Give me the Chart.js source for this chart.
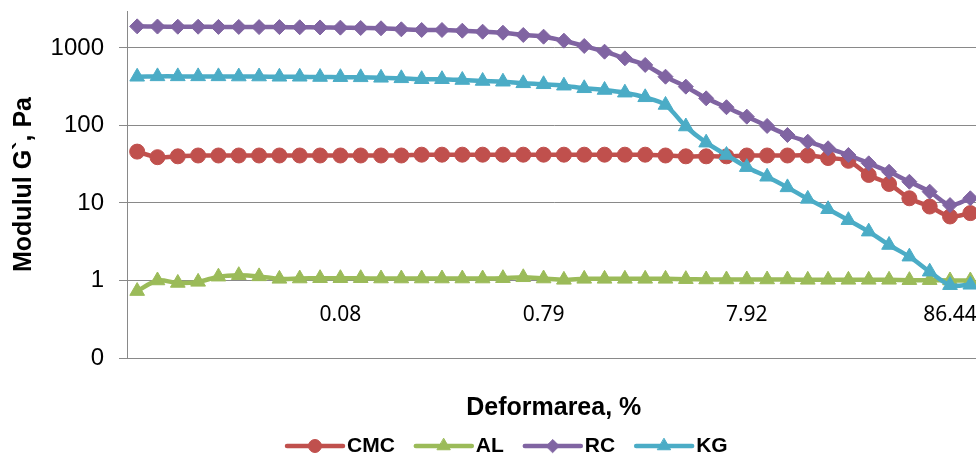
<!DOCTYPE html>
<html>
<head>
<meta charset="utf-8">
<script src="https://cdn.jsdelivr.net/npm/chart.js@4.4.0/dist/chart.umd.min.js"></script>
<style>
  html, body { margin: 0; padding: 0; background: #fff; overflow: hidden; }
  #wrap { width: 990px; height: 454px; }
</style>
</head>
<body>
<div id="wrap"><canvas id="grafico" width="990" height="454"></canvas></div>
<script>
// deformarea (%) - categorii
const deformare = [0.0079, 0.01, 0.0126, 0.0158, 0.02, 0.0251, 0.0316, 0.0398, 0.0501, 0.0631,
  0.0794, 0.1, 0.126, 0.158, 0.2, 0.251, 0.316, 0.398, 0.501, 0.631,
  0.794, 1.0, 1.26, 1.58, 2.0, 2.51, 3.16, 3.98, 5.01, 6.31,
  7.92, 9.98, 12.6, 15.8, 19.9, 25.1, 31.6, 39.8, 50.1, 63.1,
  86.44, 100];

// modulul G' (Pa)
const cmc = [46, 39, 40, 41, 41, 41, 41, 41, 41, 41, 41, 41, 41, 41, 42, 42, 42, 42, 42, 42,
  42, 42, 42, 42, 42, 42, 41, 40, 40, 40, 41, 41, 41, 41, 38, 35, 23, 17.6, 11.5, 9, 6.7, 7.4];
const al = [0.73, 1.0, 0.93, 0.96, 1.12, 1.17, 1.13, 1.05, 1.06, 1.07, 1.07, 1.07, 1.06, 1.06, 1.06, 1.06, 1.06, 1.06, 1.07, 1.10,
  1.06, 1.02, 1.05, 1.05, 1.05, 1.05, 1.05, 1.04, 1.03, 1.03, 1.03, 1.03, 1.03, 1.02, 1.02, 1.02, 1.02, 1.02, 1.01, 1.01, 1.0, 1.0];
const rc = [1900, 1890, 1880, 1880, 1870, 1870, 1860, 1860, 1850, 1840, 1830, 1810, 1795, 1742, 1706, 1706, 1671, 1622, 1574, 1471,
  1399, 1242, 1061, 896, 736, 604, 426, 317, 224, 172, 130, 98.6, 75.4, 61.8, 50.8, 41.6, 32.5, 25.3, 18.8, 14.0, 9.4, 11.5];
const kg = [425, 430, 430, 430, 430, 428, 428, 425, 425, 422, 420, 418, 412, 406, 395, 395, 386, 375, 367, 350,
  340, 326, 302, 287, 265, 231, 184, 97, 60, 41.6, 29, 21.8, 15.9, 11.3, 8.3, 6.0, 4.27, 2.87, 2.03, 1.3, 0.87, 0.88];

const yTicks = [0.1, 1, 10, 100, 1000];
const xLabelIdx = [10, 20, 30, 40];

const gri = '#898989';

function serie(nume, date, culoare, stil, raza, ordine) {
  return {
    label: nume,
    data: date,
    borderColor: culoare,
    backgroundColor: culoare,
    borderWidth: 4.5,
    pointStyle: stil,
    pointRadius: raza,
    pointBorderWidth: 1,
    pointBackgroundColor: culoare,
    pointBorderColor: culoare,
    tension: 0.3,
    order: ordine
  };
}

// etichetele axei X (puse sub linia de 1, ca in Excel)
const pluginEticheteX = {
  id: 'eticheteX',
  afterDraw(chart) {
    const ctx = chart.ctx;
    const x = chart.scales.x, y = chart.scales.y;
    ctx.save();
    ctx.font = '21px "Noto Sans", sans-serif';
    ctx.fillStyle = '#000';
    ctx.textAlign = 'center';
    ctx.textBaseline = 'middle';
    const yy = y.getPixelForValue(1) + 35;
    xLabelIdx.forEach(i => {
      ctx.fillText(deformare[i].toFixed(2), x.getPixelForValue(i), yy);
    });
    ctx.restore();
  }
};

// legenda cu linie + marker
const pluginLegenda = {
  id: 'legendaLinie',
  afterDraw(chart) {
    const ctx = chart.ctx;
    ctx.save();
    ctx.font = 'bold 21px "Liberation Sans", Arial, sans-serif';
    ctx.textBaseline = 'middle';
    let xx = 287;
    const yy = 446;
    chart.data.datasets.forEach(ds => {
      ctx.strokeStyle = ds.borderColor;
      ctx.lineWidth = 4.5;
      ctx.lineCap = 'round';
      ctx.beginPath();
      ctx.moveTo(xx, yy);
      ctx.lineTo(xx + 56, yy);
      ctx.stroke();
      ctx.fillStyle = ds.borderColor;
      ctx.strokeStyle = ds.borderColor;
      ctx.lineWidth = 1;
      Chart.helpers.drawPoint(ctx, {pointStyle: ds.pointStyle, radius: ds.pointRadius - 1, borderWidth: 1}, xx + 28, yy);
      ctx.fillStyle = '#000';
      ctx.fillText(ds.label, xx + 60, yy);
      xx += 60 + ctx.measureText(ds.label).width + 21;
    });
    ctx.restore();
  }
};

new Chart(document.getElementById('grafico'), {
  type: 'line',
  data: {
    labels: deformare.map(v => String(v)),
    datasets: [
      serie('CMC', cmc, '#C0504D', 'circle', 7.5, 4),
      serie('AL', al, '#9BBB59', 'triangle', 8.5, 3),
      serie('RC', rc, '#8064A2', 'rectRot', 7.5, 2),
      serie('KG', kg, '#4BACC6', 'triangle', 8.5, 1)
    ]
  },
  options: {
    responsive: false,
    animation: false,
    layout: { padding: { left: 0, right: 6, top: 11, bottom: 0 } },
    plugins: {
      legend: { display: false },
      tooltip: { enabled: false }
    },
    scales: {
      x: {
        type: 'category',
        offset: true,
        grid: { display: false, drawTicks: false },
        border: { display: true, color: gri, width: 1 },
        ticks: { display: false },
        title: {
          display: true,
          text: 'Deformarea, %',
          color: '#000',
          font: { family: '"Liberation Sans", Arial, sans-serif', size: 25, weight: 'bold' },
          padding: { top: 0, bottom: 31 }
        },
        afterFit(s) { s.height = 96; s.paddingLeft = 0; s.paddingRight = 0; }
      },
      y: {
        type: 'logarithmic',
        min: 0.1,
        max: 3000,
        afterBuildTicks(s) { s.ticks = yTicks.map(v => ({ value: v })); },
        ticks: {
          padding: 15,
          color: '#000',
          font: { family: '"Liberation Sans", Arial, sans-serif', size: 24 },
          callback: v => (v === 0.1 ? '0' : String(v))
        },
        grid: { color: gri, lineWidth: 1, tickLength: 8, drawTicks: true },
        border: { display: true, color: gri, width: 1 },
        title: {
          display: true,
          text: 'Modulul G`, Pa',
          color: '#000',
          font: { family: '"Liberation Sans", Arial, sans-serif', size: 25, weight: 'bold' },
          padding: { top: 9, bottom: 0 }
        },
        afterFit(s) { s.width = 127; s.paddingTop = 0; s.paddingBottom = 0; }
      }
    }
  },
  plugins: [pluginEticheteX, pluginLegenda]
});
</script>
</body>
</html>
